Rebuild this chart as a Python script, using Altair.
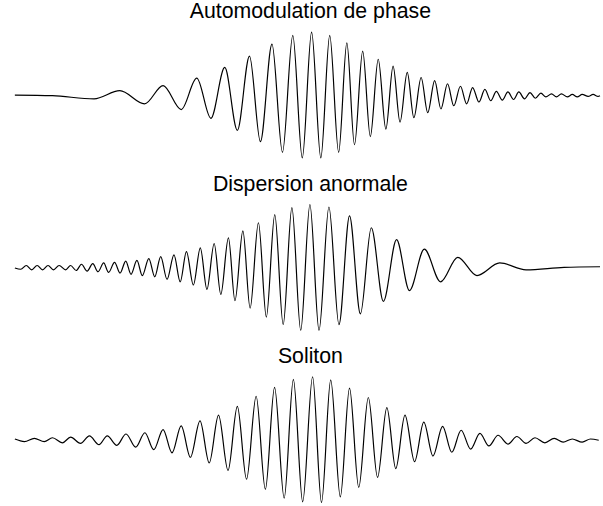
import altair as alt
import pandas as pd

# Successive extrema (time, normalised field amplitude) of each pulse.
# The line mark joins them with monotone interpolation, so every listed
# point is a crest or a trough of the drawn oscillation.

spm_t = [12, 50, 92, 118, 143, 161.7, 180, 195.7, 210, 224, 236.7, 249, 260,
         271.7, 282.3, 292.7, 302.3, 311.7, 321, 330, 339, 347.3, 355, 363.3,
         371, 379, 386.7, 394, 401, 408.3, 415, 422.3, 429, 436, 442.3, 449,
         455.3, 462, 468.3, 474.3, 480.7, 486.7, 492.7, 498.3, 504.3, 510,
         515.7, 521, 526.7, 532.3, 537.7, 543.3, 548.3, 554, 559, 564, 570,
         575, 580, 585, 591, 596, 601, 603]
spm_a = [0.0, -0.01, -0.06, 0.07, -0.14, 0.15, -0.23, 0.27, -0.37, 0.44, -0.56,
         0.62, -0.74, 0.81, -0.91, 0.95, -1.0, 1.0, -1.0, 0.95, -0.91, 0.83,
         -0.79, 0.70, -0.66, 0.57, -0.54, 0.46, -0.43, 0.36, -0.36, 0.28,
         -0.28, 0.23, -0.22, 0.18, -0.17, 0.14, -0.14, 0.12, -0.11, 0.09,
         -0.09, 0.06, -0.08, 0.05, -0.07, 0.05, -0.06, 0.04, -0.05, 0.03,
         -0.03, 0.02, -0.03, 0.02, -0.03, 0.01, -0.03, 0.01, -0.02, 0.01,
         -0.02, -0.01]

disp_t = [12, 18, 23.5, 29, 34.5, 40, 45.5, 51, 56.7, 63.3, 68.3, 74, 79.3, 85,
          90.7, 96, 101.7, 106.7, 112.7, 118.3, 124, 129.3, 135.3, 140.7,
          147.3, 153.3, 159.3, 165.7, 172.7, 179, 185.3, 192.3, 199.3, 206,
          213.3, 220, 227.7, 234.3, 242.3, 249.6, 258, 266, 274.5, 283, 291.8,
          300.7, 310, 319.2, 329.2, 339.3, 350, 361, 372, 384.2, 397.5, 410.5,
          425.5, 442, 459.3, 478.7, 501.7, 528.3, 566.7, 603]
disp_a = [-0.01, -0.03, 0.03, -0.04, 0.03, -0.04, 0.03, -0.04, 0.03, -0.04,
          0.03, -0.05, 0.05, -0.06, 0.06, -0.07, 0.07, -0.08, 0.08, -0.09,
          0.10, -0.11, 0.11, -0.13, 0.14, -0.15, 0.17, -0.19, 0.20, -0.23,
          0.25, -0.28, 0.31, -0.35, 0.38, -0.43, 0.47, -0.53, 0.58, -0.65,
          0.71, -0.79, 0.84, -0.91, 0.95, -1.0, 1.0, -1.0, 0.96, -0.91, 0.82,
          -0.74, 0.63, -0.54, 0.44, -0.37, 0.29, -0.23, 0.16, -0.13, 0.07,
          -0.04, 0.0, 0.01]

sol_t = [12, 21.7, 31.7, 41.7, 50, 60, 68.3, 78.3, 87.3, 97, 105.3, 115,
         124.3, 134, 143.3, 152.3, 161.7, 170.7, 180, 189.3, 199, 208.3,
         217.7, 227.3, 236.7, 246, 255.7, 265, 274.3, 284, 293.3, 302.7, 312.7,
         321.7, 331, 340.7, 350, 359.3, 369, 378.3, 387.7, 396.7, 406, 415.7,
         425, 434.3, 444, 453.3, 462.7, 472.3, 481.7, 490.8, 500, 510, 519,
         528.3, 537.3, 547.3, 556.7, 565.7, 575, 585, 593.3, 601.7]
sol_a = [0.01, -0.03, 0.02, -0.03, 0.03, -0.05, 0.04, -0.06, 0.06, -0.08, 0.06,
         -0.09, 0.09, -0.12, 0.11, -0.16, 0.16, -0.21, 0.22, -0.28, 0.30,
         -0.37, 0.39, -0.49, 0.53, -0.63, 0.69, -0.79, 0.83, -0.93, 0.96,
         -0.99, 1.0, -1.0, 0.95, -0.91, 0.82, -0.76, 0.67, -0.60, 0.51, -0.46,
         0.39, -0.35, 0.28, -0.26, 0.21, -0.20, 0.15, -0.15, 0.10, -0.10, 0.07,
         -0.07, 0.05, -0.06, 0.03, -0.05, 0.02, -0.04, 0.01, -0.04, 0.01,
         -0.01]

titles = ["Automodulation de phase", "Dispersion anormale", "Soliton"]

FONT = "Liberation Sans"


def panel(t, a, title):
    df = pd.DataFrame({"t": t, "a": a})
    return (
        alt.Chart(df)
        .mark_line(interpolate="monotone", color="black", strokeWidth=1.2)
        .encode(
            x=alt.X("t:Q", axis=None,
                    scale=alt.Scale(domain=[12, 603], nice=False, zero=False)),
            y=alt.Y("a:Q", axis=None,
                    scale=alt.Scale(domain=[-1, 1], nice=False, zero=False)),
            order="t:Q",
        )
        .properties(
            width=591,
            height=127,
            title=alt.TitleParams(
                title, font=FONT, fontSize=21.5, fontWeight="normal",
                color="black", anchor="middle", baseline="alphabetic",
                offset=-10, dx=3,
            ),
        )
    )


chart = (
    alt.vconcat(
        panel(spm_t, spm_a, titles[0]),
        panel(disp_t, disp_a, titles[1]),
        panel(sol_t, sol_a, titles[2]),
        spacing=13,
    )
    .properties(padding={"left": 12, "top": -1, "right": 0, "bottom": 0},
                background="white")
    .configure_view(stroke=None)
)

chart.save("out.html", embed_options={"renderer": "svg", "actions": False})
